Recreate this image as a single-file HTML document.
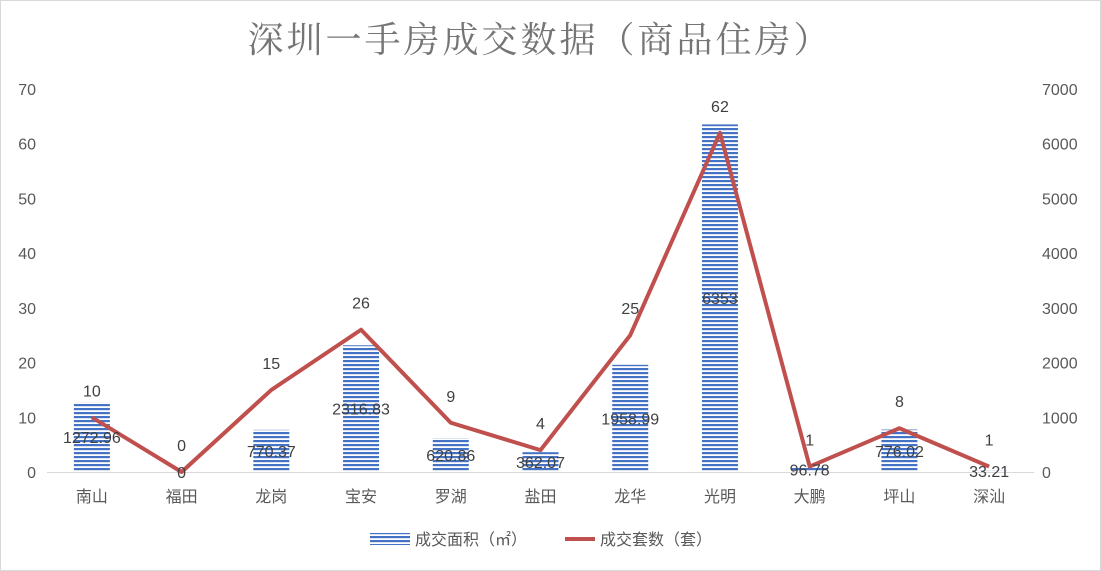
<!DOCTYPE html>
<html><head><meta charset="utf-8"><style>
body{margin:0;background:#fff;}
svg{display:block;font-family:"Liberation Sans","Noto Sans CJK SC",sans-serif;}
</style></head><body>
<svg id="chart" width="1101" height="571">
<defs>
<pattern id="stripes" width="4" height="4" patternUnits="userSpaceOnUse">
<rect width="4" height="4" fill="#ffffff"/><rect width="4" height="2.2" fill="#4472c4"/>
</pattern>
</defs>
<rect x="0.5" y="0.5" width="1100" height="570" fill="#fff" stroke="#d9d9d9"/>
<text x="540" y="52" text-anchor="middle" font-size="36" fill="#757575" font-family="'Liberation Serif','Noto Serif CJK SC',serif" letter-spacing="3">深圳一手房成交数据（商品住房）</text>
<g id="plot"></g>
<g>
<rect x="370" y="533" width="40" height="12" fill="url(#stripes)"/>
<text x="415" y="545" font-size="16" fill="#595959">成交面积（㎡）</text>
<line x1="565" y1="539" x2="595" y2="539" stroke="#c0504d" stroke-width="4"/>
<text x="600" y="545" font-size="16" fill="#595959">成交套数（套）</text>
</g>
</svg>
<script>
const categories=["南山","福田","龙岗","宝安","罗湖","盐田","龙华","光明","大鹏","坪山","深汕"];
const areaValues=[1272.96,0,770.37,2316.83,620.86,362.07,1958.99,6353,96.78,776.02,33.21];
const unitValues=[10,0,15,26,9,4,25,62,1,8,1];
const leftTicks=[0,10,20,30,40,50,60,70];
const rightTicks=[0,1000,2000,3000,4000,5000,6000,7000];
const NS="http://www.w3.org/2000/svg";
const g=document.getElementById("plot");
const x0=47,x1=1034,yB=472,yT=89;
const step=(x1-x0)/categories.length;
const xc=i=>x0+step*(i+0.5);
const yL=v=>yB-(v/70)*(yB-yT);
const yR=v=>yB-(v/7000)*(yB-yT);
function mk(t,a,txt){const e=document.createElementNS(NS,t);for(const k in a)e.setAttribute(k,a[k]);if(txt!==undefined)e.textContent=txt;g.appendChild(e);return e;}
leftTicks.forEach(v=>{const e=mk("text",{x:36,y:yL(v)+6,"text-anchor":"end","font-size":16,fill:"#595959"},v);

});
rightTicks.forEach(v=>{const e=mk("text",{x:1042,y:yR(v)+6,"font-size":16,fill:"#595959"},v);

});
const ax=mk("line",{x1:x0,y1:yB+0.5,x2:x1,y2:yB+0.5,stroke:"#d9d9d9"});


categories.forEach((c,i)=>{
const t=mk("text",{x:xc(i),y:502,"text-anchor":"middle","font-size":16,fill:"#595959"},c);


const y=yR(areaValues[i]);
const b=mk("rect",{x:xc(i)-18,y:y,width:36,height:yB-y,fill:"url(#stripes)"});


});
const pts=unitValues.map((v,i)=>xc(i)+","+yL(v)).join(" ");
const ln=mk("polyline",{points:pts,fill:"none",stroke:"#c0504d","stroke-width":4,"stroke-linejoin":"round"});


categories.forEach((c,i)=>{
const y=yR(areaValues[i]);
const t=mk("text",{x:xc(i),y:(y+yB)/2+6,"text-anchor":"middle","font-size":16,fill:"#404040"},areaValues[i]===0?"0":String(areaValues[i]));


const u=mk("text",{x:xc(i),y:yL(unitValues[i])-21,"text-anchor":"middle","font-size":16,fill:"#404040"},unitValues[i]);


});
</script>
</body></html>
